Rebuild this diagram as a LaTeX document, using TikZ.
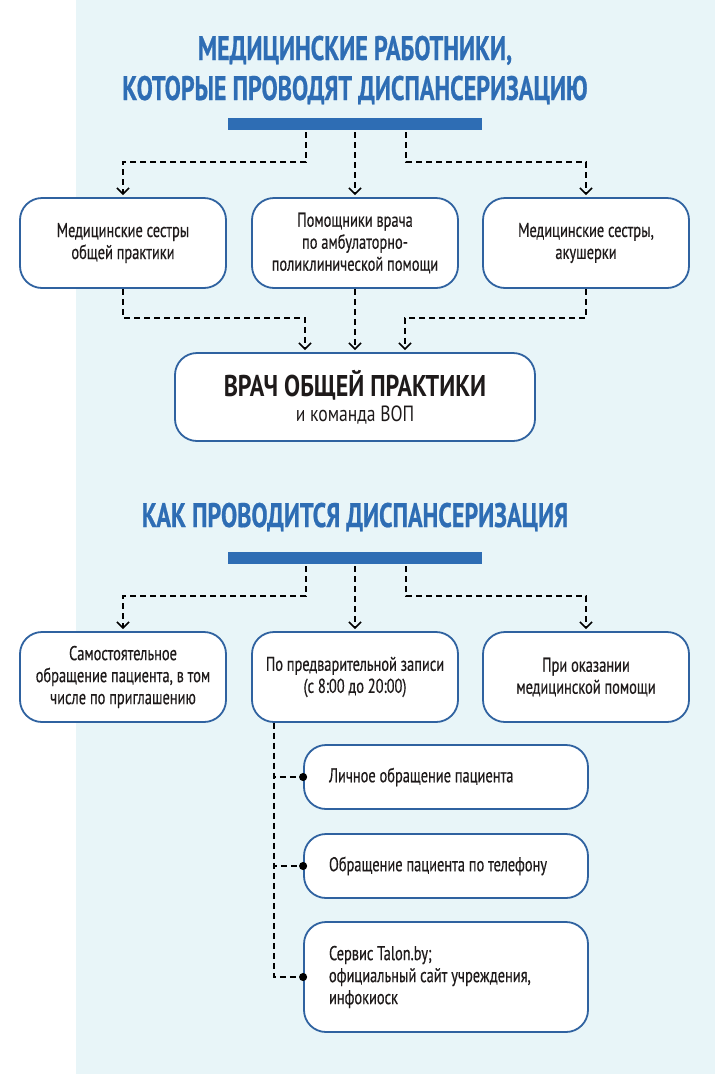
\documentclass[tikz,border=0pt]{standalone}
\usepackage{fontspec}
\setmainfont{PT Sans}[FakeStretch=0.72, FakeBold=0.4]
\newfontfamily\headfont{PT Sans}[FakeStretch=0.71, FakeBold=0.6]
\newfontfamily\gpfont{PT Sans}[FakeStretch=0.8]
\usetikzlibrary{arrows.meta}
\definecolor{bgblue}{HTML}{E8F5F8}
\definecolor{titleblue}{HTML}{2E6DB4}
\definecolor{frameblue}{HTML}{2F62A0}
\definecolor{inkblack}{HTML}{1E1A1A}

\begin{document}
\begin{tikzpicture}[x=1pt, y=-1pt, font=\fontsize{20}{22}\selectfont, text=inkblack]
    \tikzstyle{box} = [rectangle, draw=frameblue, line width=1.8pt, fill=white, rounded corners=22pt, minimum width=206pt, minimum height=90pt, align=center, inner sep=0pt]
    \tikzstyle{subbox} = [box, minimum width=284pt, minimum height=64pt, text width=234pt, align=flush left, inner xsep=25pt]
    \tikzstyle{heading} = [text=titleblue, font=\headfont\bfseries\fontsize{34}{40}\selectfont, align=center]
    \tikzstyle{bar} = [rectangle, fill=titleblue, minimum width=254pt, minimum height=12pt, inner sep=0pt]
    \tikzstyle{link} = [draw=black, line width=1.6pt, dash pattern=on 6pt off 4pt, -{Straight Barb[length=6pt,width=12pt]}, shorten >=2pt]
    \tikzstyle{branch} = [draw=black, line width=1.6pt, dash pattern=on 6pt off 4pt, -{Circle[length=8pt]}, shorten >=-4pt]

    % background
    \useasboundingbox (0,0) rectangle (715,1074);
    \fill[white] (0,0) rectangle (715,1074);
    \fill[bgblue] (76,0) rectangle (715,1074);

    % who does it
    \node (title1) [heading] at (355,70) {МЕДИЦИНСКИЕ РАБОТНИКИ,\\КОТОРЫЕ ПРОВОДЯТ ДИСПАНСЕРИЗАЦИЮ};
    \node (bar1) [bar] at (355,124) {};
    \node (nurses) [box] at (123,243) {Медицинские сестры\\общей практики};
    \node (assist) [box] at (355,243) {Помощники врача\\по амбулаторно-\\поликлинической помощи};
    \node (midwives) [box] at (586,243) {Медицинские сестры,\\акушерки};
    \node (gp) [box, minimum width=360pt, minimum height=88pt] at (355,397) {{\gpfont\bfseries\fontsize{30}{32}\selectfont ВРАЧ ОБЩЕЙ ПРАКТИКИ}\\[3pt]{\gpfont\fontsize{22}{24}\selectfont и команда ВОП}};

    \draw [link] ([xshift=-49pt, yshift=-2pt]bar1.south) -- ++(0,30) -| (nurses.north);
    \draw [link] ([yshift=-2pt]bar1.south) -- (assist.north);
    \draw [link] ([xshift=51pt, yshift=-2pt]bar1.south) -- ++(0,30) -| (midwives.north);
    \draw [link] (nurses.south) -- ++(0,29) -| ([xshift=-50pt]gp.north);
    \draw [link] (assist.south) -- (gp.north);
    \draw [link] (midwives.south) -- ++(0,29) -| ([xshift=50pt]gp.north);

    % how it is done
    \node (title2) [heading] at (355,517) {КАК ПРОВОДИТСЯ ДИСПАНСЕРИЗАЦИЯ};
    \node (bar2) [bar] at (355,558) {};
    \node (self) [box] at (123,677) {Самостоятельное\\обращение пациента, в том\\числе по приглашению};
    \node (booking) [box] at (355,677) {По предварительной записи\\(с 8:00 до 20:00)};
    \node (care) [box] at (586,677) {При оказании\\медицинской помощи};
    \node (visit) [subbox] at (446,777) {Личное обращение пациента};
    \node (phone) [subbox] at (446,866) {Обращение пациента по телефону};
    \node (online) [subbox, minimum height=110pt] at (446,977) {Сервис Talon.by;\\официальный сайт учреждения,\\инфокиоск};

    \draw [link] ([xshift=-49pt, yshift=-2pt]bar2.south) -- ++(0,30) -| (self.north);
    \draw [link] ([yshift=-2pt]bar2.south) -- (booking.north);
    \draw [link] ([xshift=51pt, yshift=-2pt]bar2.south) -- ++(0,30) -| (care.north);
    \draw [branch] ([xshift=-81pt]booking.south) |- (visit.west);
    \draw [branch] ([xshift=-81pt]booking.south) |- (phone.west);
    \draw [branch] ([xshift=-81pt]booking.south) |- (online.west);
\end{tikzpicture}
\end{document}
